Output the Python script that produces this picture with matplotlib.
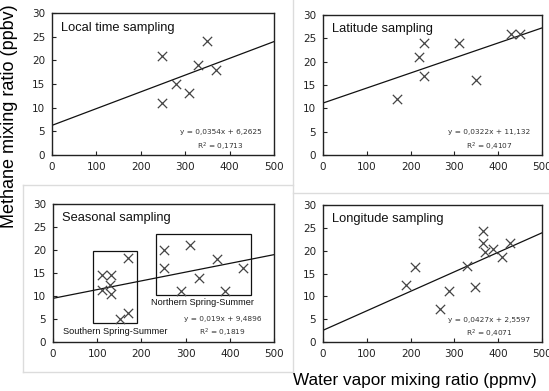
import matplotlib
matplotlib.use("Agg")
import matplotlib.pyplot as plt
from matplotlib.patches import Rectangle
from matplotlib.lines import Line2D
import numpy as np

W, H = 549, 391

# ---- data ----
local_x = [248, 248, 280, 309, 328, 348, 369]
local_y = [21, 10.9, 15, 13, 19, 24, 18]
local_fit = (0.0354, 6.2625)
local_eq = ["y = 0,0354x + 6,2625", "R$^2$ = 0,1713"]

lat_x = [170, 220, 230, 230, 310, 350, 430, 450]
lat_y = [12, 21, 24, 17, 24, 16, 26, 26]
lat_fit = (0.0322, 11.132)
lat_eq = ["y = 0,0322x + 11,132", "R$^2$ = 0,4107"]

seas_x = [110, 131, 110, 128, 131, 151, 170, 170,
          250, 250, 290, 310, 330, 370, 390, 430]
seas_y = [14.5, 14.5, 11.3, 12.4, 10.5, 5.1, 6.2, 18.3,
          20, 16, 11, 21, 14, 18, 11, 16]
seas_fit = (0.019, 9.4896)
seas_eq = ["y = 0,019x + 9,4896", "R$^2$ = 0,1819"]
south_box = (90, 4.1, 189, 19.8)   # x0, y0, x1, y1
north_box = (232, 10.2, 448, 23.5)

lon_x = [190, 210, 267, 288, 328, 347, 366, 366, 370, 389, 408, 427]
lon_y = [12.5, 16.5, 7.2, 11.1, 16.6, 12.1, 24.2, 21.6, 19.8, 20.4, 18.6, 21.7]
lon_fit = (0.0427, 2.5597)
lon_eq = ["y = 0,0427x + 2,5597", "R$^2$ = 0,4071"]

xticks = [0, 100, 200, 300, 400, 500]
yticks = [0, 5, 10, 15, 20, 25, 30]

fig = plt.figure(figsize=(W / 100, H / 100), dpi=100)
fig.patch.set_facecolor("white")

def box(x0, y0, x1, y1):
    return [x0 / W, 1 - y1 / H, (x1 - x0) / W, (y1 - y0) / H]

# light gray panel separators
sep = "#dcdcdc"
fig.add_artist(Line2D([293 / W, 293 / W], [1, 1 - 372 / H], color=sep, lw=1))
fig.add_artist(Line2D([23 / W, 293 / W], [1 - 185 / H, 1 - 185 / H], color=sep, lw=1))
fig.add_artist(Line2D([293 / W, 1], [1 - 193 / H, 1 - 193 / H], color=sep, lw=1))
fig.add_artist(Line2D([23 / W, 23 / W], [1 - 185 / H, 1 - 372 / H], color=sep, lw=1))
fig.add_artist(Line2D([23 / W, 293 / W], [1 - 372 / H, 1 - 372 / H], color=sep, lw=1))

panels = [
    ("Local time sampling", local_x, local_y, local_fit, local_eq, box(52, 13, 274, 155), True),
    ("Latitude sampling", lat_x, lat_y, lat_fit, lat_eq, box(323, 15, 542, 155), True),
    ("Seasonal sampling", seas_x, seas_y, seas_fit, seas_eq, box(53, 204, 274, 342), False),
    ("Longitude sampling", lon_x, lon_y, lon_fit, lon_eq, box(323, 205, 542, 342), True),
]

axes = []
for title, xs, ys, fit, eq, rect, std_eq in panels:
    ax = fig.add_axes(rect)
    axes.append(ax)
    ax.set_xlim(0, 500)
    ax.set_ylim(0, 30)
    ax.set_xticks(xticks)
    ax.set_yticks(yticks)
    ax.tick_params(direction="in", length=3, width=0.8, colors="#222222",
                   labelsize=7.5, pad=5)
    for lab in ax.get_xticklabels() + ax.get_yticklabels():
        lab.set_fontfamily("DejaVu Sans")
        lab.set_color("#222222")
    for s in ax.spines.values():
        s.set_linewidth(1.0)
        s.set_color("#222222")
    ax.scatter(xs, ys, marker="x", s=45, color="#444444", linewidths=0.9, zorder=3)
    lx = np.array([0, 500])
    ax.plot(lx, fit[0] * lx + fit[1], color="#111111", lw=0.9, zorder=2)
    ax.text(0.04, 0.94, title, transform=ax.transAxes, ha="left", va="top",
            fontsize=9.3, family="Liberation Sans", color="#111111")
    if std_eq:
        ax.text(380, 4.9, eq[0], ha="center", va="center", fontsize=5.3,
                family="DejaVu Sans", color="#333333")
        ax.text(380, 1.7, eq[1], ha="center", va="center", fontsize=5.3,
                family="DejaVu Sans", color="#333333")
    else:
        ax.text(383, 5.0, eq[0], ha="center", va="center", fontsize=5.3,
                family="DejaVu Sans", color="#333333")
        ax.text(383, 1.9, eq[1], ha="center", va="center", fontsize=5.3,
                family="DejaVu Sans", color="#333333")
        for (x0, y0, x1, y1) in (south_box, north_box):
            ax.add_patch(Rectangle((x0, y0), x1 - x0, y1 - y0, fill=False,
                                   ec="#111111", lw=0.9, zorder=1))
        ax.text(140, 2.2, "Southern Spring-Summer", ha="center", va="center",
                fontsize=6.6, family="Liberation Sans", color="#111111")
        ax.text(339, 8.5, "Northern Spring-Summer", ha="center", va="center",
                fontsize=6.6, family="Liberation Sans", color="#111111")

fig.text(10 / W, 1 - 116 / H, "Methane mixing ratio (ppbv)", rotation=90,
         ha="center", va="center", fontsize=13, family="Liberation Sans")
fig.text(415 / W, 1 - 380 / H, "Water vapor mixing ratio (ppmv)",
         ha="center", va="center", fontsize=12.3, family="Liberation Sans")

fig.savefig("out.png", dpi=100)
